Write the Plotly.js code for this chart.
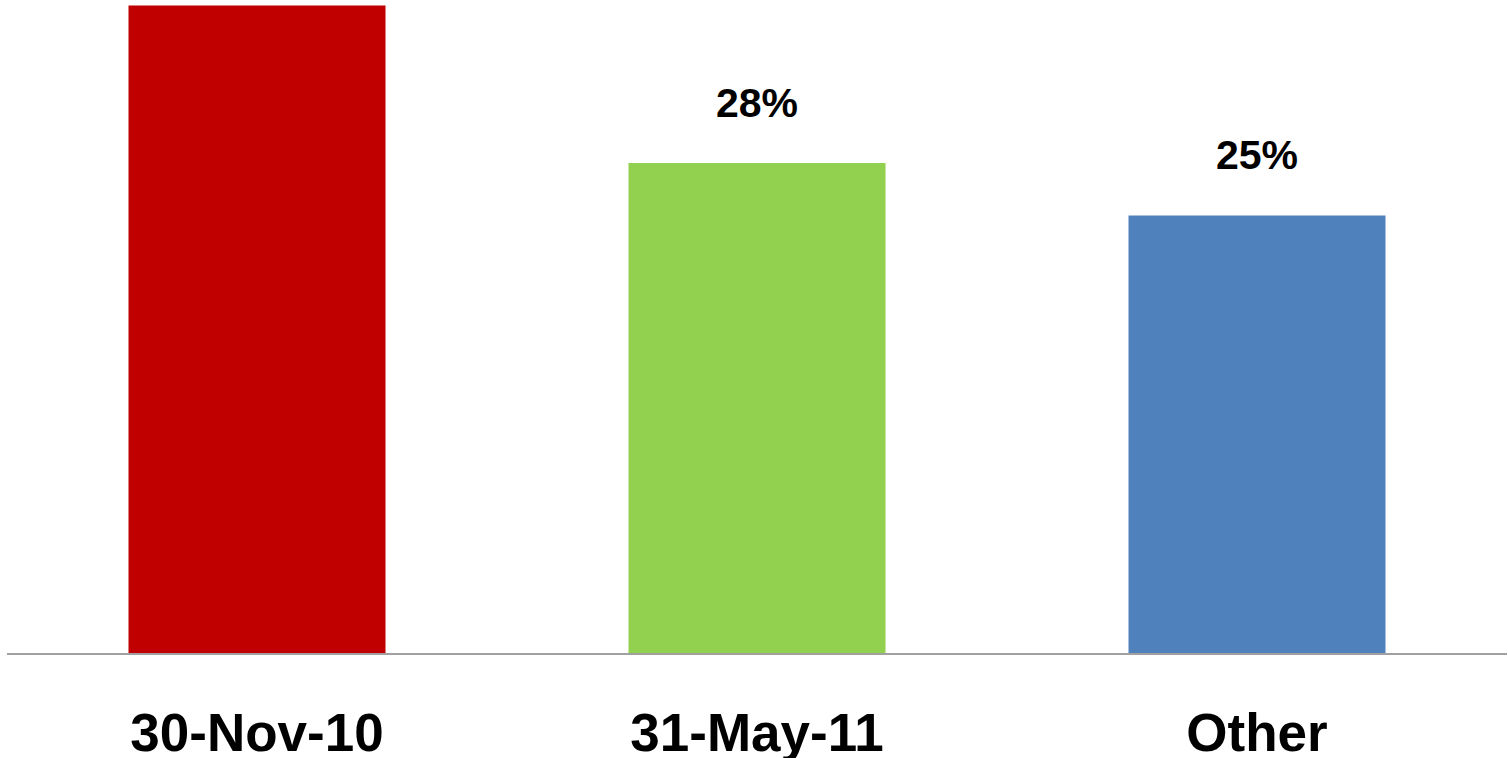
<!DOCTYPE html>
<html>
<head>
<meta charset="utf-8">
<script src="https://cdn.plot.ly/plotly-3.0.1.min.js"></script>
<style>html,body{margin:0;padding:0;background:#fff;}#chart{width:1508px;height:758px;}</style>
</head>
<body>
<div id="chart"></div>
<script>
const categories = ["30-Nov-10", "31-May-11", "Other"];
const values = [37, 28, 25];
const labels = ["37%", "28%", "25%"];
const colors = ["#C00000", "#92D050", "#4F81BD"];

const font = "Liberation Sans, Arial, sans-serif";

const trace = {
  type: "bar",
  x: categories,
  y: values,
  marker: {color: colors, line: {width: 0}},
  hoverinfo: "skip",
  showlegend: false
};

const annotations = categories.map((c, i) => ({
  x: c, y: values[i], xref: "x", yref: "y",
  text: labels[i], showarrow: false,
  yanchor: "bottom", yshift: 35,
  font: {family: font, size: 41, color: "#000000", weight: "bold"}
}));

const layout = {
  width: 1508, height: 758,
  margin: {l: 7, r: 1, t: 0, b: 105},
  paper_bgcolor: "#ffffff", plot_bgcolor: "#ffffff",
  bargap: 0.486,
  xaxis: {
    type: "category",
    showline: true, linecolor: "#a0a0a0", linewidth: 2,
    showgrid: false, zeroline: false,
    ticks: "outside", ticklen: 32, tickcolor: "rgba(0,0,0,0)",
    tickfont: {family: font, size: 53, color: "#000000", weight: "bold"}
  },
  yaxis: {
    range: [0, 37.31],
    visible: false, showgrid: false, zeroline: false, fixedrange: true
  },
  annotations: annotations
};

Plotly.newPlot("chart", [trace], layout, {displayModeBar: false, staticPlot: true});
</script>
</body>
</html>
